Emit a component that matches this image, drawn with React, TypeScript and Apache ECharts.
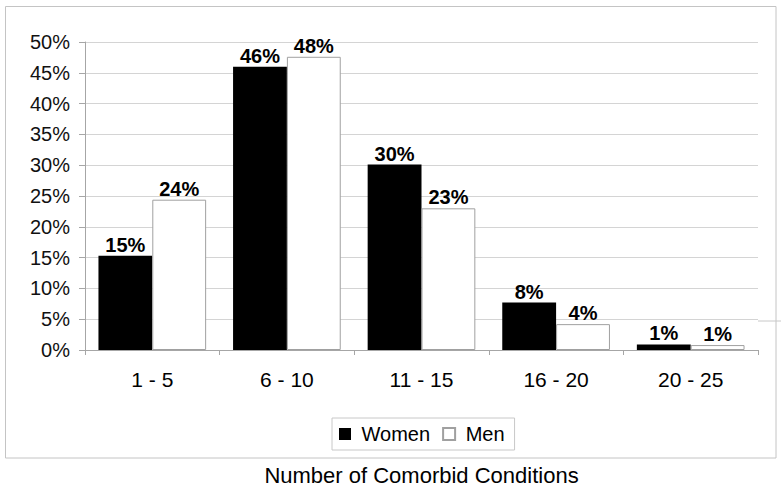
import React, { useEffect, useRef } from "react";
import * as echarts from "echarts";

const categories = ["1 - 5", "6 - 10", "11 - 15", "16 - 20", "20 - 25"];
const women = [15.3, 46.0, 30.1, 7.7, 0.9];
const men = [24.4, 47.6, 23.0, 4.2, 0.8];
const yTicks = { min: 0, max: 50, interval: 5 };
const seriesNames = ["Women", "Men"];
const axisTitle = "Number of Comorbid Conditions";

const FONT = "'Liberation Sans', Arial, Helvetica, sans-serif";

export default function App() {
  const ref = useRef<HTMLDivElement>(null);
  useEffect(() => {
    if (!ref.current) return;
    const chart = echarts.init(ref.current, null, { renderer: "svg" });
    const label = {
      show: true,
      position: "top",
      distance: 1,
      fontFamily: FONT,
      fontSize: 20,
      fontWeight: "bold",
      color: "#000",
      formatter: (p: any) => Math.round(p.value) + "%",
    };
    chart.setOption({
      animation: false,
      backgroundColor: "#fff",
      textStyle: { fontFamily: FONT },
      grid: { left: 85, right: 26, top: 42, bottom: 139, containLabel: false },
      legend: {
        data: seriesNames,
        left: 332,
        top: 418,
        orient: "horizontal",
        padding: [6, 10, 6, 7],
        itemGap: 12,
        itemWidth: 12,
        itemHeight: 12,
        icon: "rect",
        borderColor: "#c8c8c8",
        borderWidth: 1,
        formatter: (n: string) => " " + n,
        textStyle: { fontFamily: FONT, fontSize: 20, color: "#000" },
      },
      xAxis: {
        type: "category",
        data: categories,
        name: axisTitle,
        nameLocation: "middle",
        nameGap: 114,
        nameTextStyle: { fontFamily: FONT, fontSize: 22, color: "#000" },
        axisLine: { show: true, lineStyle: { color: "#a6a6a6", width: 1 } },
        axisTick: { show: true, length: 5, alignWithLabel: false, lineStyle: { color: "#a6a6a6" } },
        axisLabel: { fontFamily: FONT, fontSize: 21, color: "#000", margin: 19 },
        splitLine: { show: false },
      },
      yAxis: {
        type: "value",
        min: yTicks.min,
        max: yTicks.max,
        interval: yTicks.interval,
        axisLine: { show: true, lineStyle: { color: "#a6a6a6", width: 1 } },
        axisTick: { show: true, length: 6, lineStyle: { color: "#a6a6a6" } },
        axisLabel: {
          fontFamily: FONT,
          fontSize: 20,
          color: "#111",
          margin: 15,
          formatter: "{value}%",
        },
        splitLine: { show: true, lineStyle: { color: "#d4d4d4", width: 1 } },
      },
      graphic: [
        {
          type: "rect",
          shape: { x: 5.5, y: 6.5, width: 770.5, height: 451.5 },
          style: { fill: "none", stroke: "#c4c4c4", lineWidth: 1 },
          silent: true,
          z: -1,
        },
        {
          type: "line",
          shape: { x1: 758, y1: 321, x2: 781, y2: 321 },
          style: { stroke: "#c8c8c8", lineWidth: 1 },
          silent: true,
        },
      ],
      series: [
        {
          name: seriesNames[0],
          type: "bar",
          data: women,
          barGap: "0%",
          barCategoryGap: "20%",
          itemStyle: { color: "#000", borderColor: "#000", borderWidth: 0 },
          label,
        },
        {
          name: seriesNames[1],
          type: "bar",
          data: men,
          barGap: "0%",
          barCategoryGap: "20%",
          itemStyle: { color: "#fff", borderColor: "#a0a0a0", borderWidth: 1 },
          label,
        },
      ],
    });
    return () => chart.dispose();
  }, []);
  return (
    <div
      ref={ref}
      style={{ position: "fixed", left: 0, top: 0, width: 784, height: 491, background: "#fff" }}
    />
  );
}
